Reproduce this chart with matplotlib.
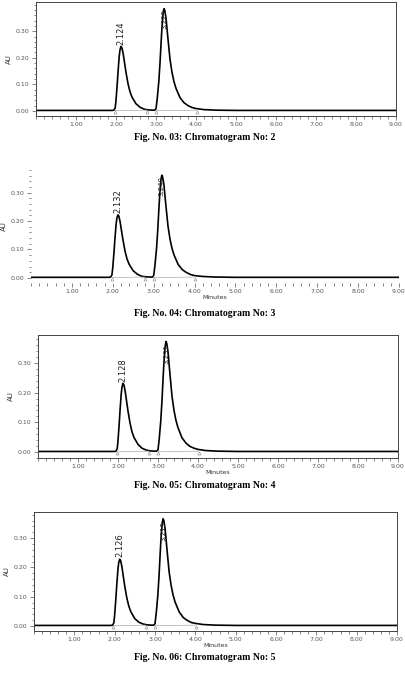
import matplotlib.pyplot as plt
from matplotlib.ticker import MultipleLocator, FormatStrFormatter

# time grid (minutes)
minutes = [0.0, 1.90,
           1.95, 1.98, 2.00, 2.03, 2.05, 2.08, 2.10, 2.125, 2.15, 2.18, 2.20,
           2.25, 2.30, 2.35, 2.40, 2.50, 2.60, 2.70, 2.80, 2.90, 2.97,
           3.00, 3.03, 3.07, 3.10, 3.13, 3.15, 3.18, 3.20, 3.22, 3.25, 3.30,
           3.35, 3.40, 3.45, 3.50, 3.60, 3.70, 3.80, 3.90, 4.00, 4.20, 4.50,
           5.00, 9.00]

# absorbance (AU) for each chromatogram
au_2 = [0.002, 0.002,
        0.003, 0.012, 0.040, 0.100, 0.145, 0.205, 0.230, 0.243, 0.237, 0.215, 0.195,
        0.145, 0.103, 0.072, 0.052, 0.027, 0.014, 0.007, 0.004, 0.003, 0.003,
        0.008, 0.045, 0.110, 0.180, 0.265, 0.315, 0.370, 0.385, 0.378, 0.350, 0.270,
        0.195, 0.145, 0.110, 0.085, 0.050, 0.031, 0.020, 0.013, 0.009, 0.005, 0.003,
        0.002, 0.002]
au_3 = [0.002, 0.002,
        0.003, 0.011, 0.037, 0.091, 0.133, 0.187, 0.210, 0.222, 0.217, 0.197, 0.178,
        0.133, 0.094, 0.066, 0.048, 0.025, 0.013, 0.006, 0.004, 0.003, 0.003,
        0.008, 0.042, 0.103, 0.169, 0.249, 0.296, 0.348, 0.362, 0.355, 0.329, 0.254,
        0.183, 0.136, 0.103, 0.080, 0.047, 0.029, 0.019, 0.012, 0.008, 0.005, 0.003,
        0.002, 0.002]
au_4 = [0.002, 0.002,
        0.003, 0.011, 0.038, 0.095, 0.138, 0.195, 0.219, 0.231, 0.225, 0.204, 0.185,
        0.138, 0.098, 0.068, 0.049, 0.026, 0.013, 0.007, 0.004, 0.003, 0.003,
        0.008, 0.043, 0.106, 0.174, 0.256, 0.304, 0.357, 0.372, 0.365, 0.338, 0.261,
        0.188, 0.140, 0.106, 0.082, 0.048, 0.030, 0.019, 0.013, 0.009, 0.005, 0.003,
        0.002, 0.002]
au_5 = [0.002, 0.002,
        0.003, 0.011, 0.038, 0.094, 0.136, 0.192, 0.216, 0.228, 0.222, 0.202, 0.183,
        0.136, 0.097, 0.068, 0.049, 0.025, 0.013, 0.007, 0.004, 0.003, 0.003,
        0.008, 0.043, 0.105, 0.171, 0.252, 0.300, 0.352, 0.366, 0.359, 0.333, 0.257,
        0.185, 0.138, 0.105, 0.081, 0.048, 0.029, 0.019, 0.012, 0.009, 0.005, 0.003,
        0.002, 0.002]

traces = [au_2, au_3, au_4, au_5]
rt1_labels = ['2.124', '2.132', '2.128', '2.126']
rt2_labels = ['3.229', '3.240', '3.231', '3.215']
rt1 = [2.124, 2.132, 2.128, 2.126]
rt2 = [3.20, 3.20, 3.20, 3.20]
peak_idx = [9, 30]
bounds = [(1.97, 2.78), (3.00, 4.02)]
captions = ['Fig. No. 03: Chromatogram No: 2', 'Fig. No. 04: Chromatogram No: 3',
            'Fig. No. 05: Chromatogram No: 4', 'Fig. No. 06: Chromatogram No: 5']

W, H = 406, 684
# panel boxes in pixels: left, right, top, bottom, and y range
boxes = [(36, 396, 2, 116, -0.019, 0.41),
         (31, 399, 170, 283, -0.018, 0.38),
         (38, 398, 335, 458, -0.02, 0.394),
         (34, 397, 512, 631, -0.017, 0.389)]
caption_y = [137, 313, 485, 658]

fig = plt.figure(figsize=(W / 100, H / 100), dpi=100)
grey = '#555555'

for i in range(4):
    l, r, t, b, y0, y1 = boxes[i]
    ax = fig.add_axes([l / W, 1 - b / H, (r - l) / W, (b - t) / H])
    ax.plot(minutes, traces[i], color='black', lw=1.2)
    # integration baselines and marks
    for s, e in bounds:
        ax.plot([s, e], [0.001, 0.003], color='#aaaaaa', lw=0.5)
        ax.plot([s, e], [-0.004, -0.004], ls='none', marker='^', ms=2.2,
                mfc='none', mec='#888888', mew=0.4)
    ax.set_xlim(0, 9)
    ax.set_ylim(y0, y1)
    ax.set_xticks([1, 2, 3, 4, 5, 6, 7, 8, 9])
    ax.xaxis.set_minor_locator(MultipleLocator(0.2))
    ax.set_yticks([0.0, 0.1, 0.2, 0.3])
    ax.yaxis.set_minor_locator(MultipleLocator(0.02))
    ax.xaxis.set_major_formatter(FormatStrFormatter('%.2f'))
    ax.yaxis.set_major_formatter(FormatStrFormatter('%.2f'))
    ax.tick_params(axis='both', which='major', length=3, width=0.5, color=grey,
                   labelsize=4.5, labelcolor=grey, pad=1.5)
    ax.tick_params(axis='both', which='minor', length=1.8, width=0.5, color=grey)
    ax.set_ylabel('AU', fontsize=5, color='#333333', labelpad=3)
    if i > 0:
        ax.set_xlabel('Minutes', fontsize=4.5, color='#333333', labelpad=0.5)
    for sp in ax.spines.values():
        sp.set_linewidth(0.7)
        sp.set_color('#444444')
    if i == 1:
        for sp in ax.spines.values():
            sp.set_visible(False)
    # peak labels
    ax.text(rt1[i], traces[i][peak_idx[0]] + 0.006, rt1_labels[i], rotation=90,
            fontsize=6, ha='center', va='bottom', color='#222222')
    ax.text(rt2[i], traces[i][peak_idx[1]] - 0.075, rt2_labels[i], rotation=90,
            fontsize=5, ha='center', va='bottom', color='#222222')
    fig.text(0.504, 1 - caption_y[i] / H, captions[i], ha='center', va='center',
             fontsize=7, fontweight='bold', family='Liberation Serif')

plt.savefig('out.png', dpi=100)
